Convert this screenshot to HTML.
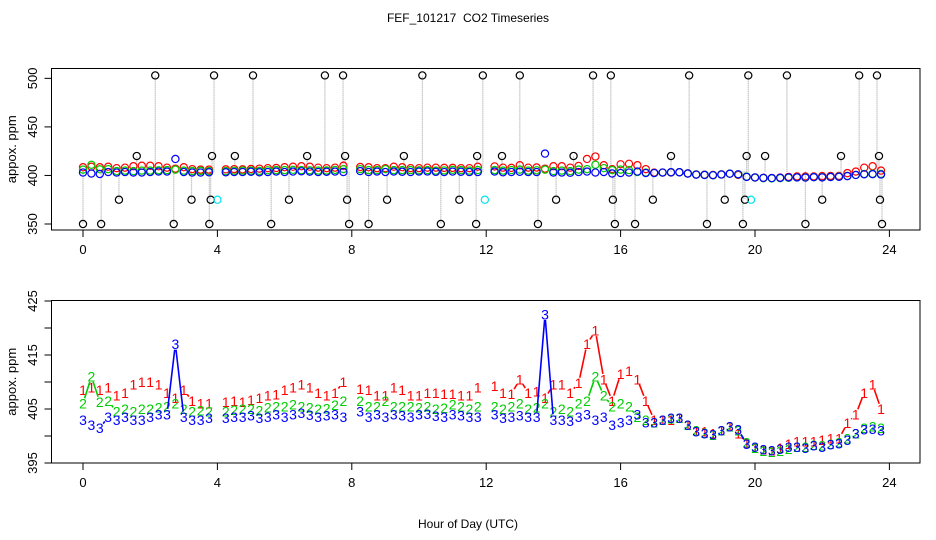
<!DOCTYPE html>
<html><head><meta charset="utf-8"><style>
body{margin:0;background:#fff}
svg{display:block;font-family:"Liberation Sans",Arial,sans-serif}
</style></head><body>
<svg id="chart" width="936" height="540" viewBox="0 0 936 540">
<rect width="936" height="540" fill="#fff"/>
<text x="468" y="22" text-anchor="middle" font-size="12">FEF_101217&#160; CO2 Timeseries</text>
<text x="468" y="528" text-anchor="middle" font-size="12">Hour of Day (UTC)</text>
<g id="gtop"></g>
<g id="gbot"></g>
</svg>
<script>
const hours = [];
const red = [408.5,409,408.5,409,407.5,408,409.5,410,410,409.5,408,407,408.5,406.5,406,406,null,406.3,406.5,406.3,406.7,407,407.5,407.7,408.5,409,409.5,409,408,407.5,408,410,null,408.7,408.5,407.5,407.5,409,408.5,407.5,407.5,408,408,407.8,407.8,407.5,407.5,409,null,409.3,408,407.8,410.5,408,408.2,407,409.5,409.5,408,409.8,417,419.5,410.5,406.5,411.5,412,410.5,406.5,403,403,403,403.3,402,401,400.8,400.5,401,401.8,400.5,398.7,397.8,397.5,397.3,397.8,398.5,399,399,399,399.3,399.5,399.5,402.4,404,408,409.5,405];
const green = [406,411,406.3,406.5,404.5,405,404.5,405,405,405.3,405.5,406,405,404.5,404.7,404.5,null,404.5,404.8,405,405,404.7,405.3,405.5,405.5,405.8,405.5,405.3,405,405.1,405.7,406.5,null,406.5,405.5,405.5,406.5,405.5,405.5,405.5,405.3,405.5,405,405.2,405.8,405.5,405,405.5,null,405.5,405,405.5,406,405,405.3,406,404.5,405,404.5,406,406.5,411,407.5,405.5,406,405.5,403.5,403,402.5,403,403.2,403.3,402,401,400.6,400.2,401,401.8,401,398.8,397.8,397.2,397,397.2,397.6,398,398,398.3,398.2,398.5,398.8,399.5,400.5,401.5,401.8,401.5];
const blue = [403,402,401.5,403.5,403,403.5,403,403,403.5,404,404,417,403.5,403,403,403.3,null,403.3,403.5,403.5,403.8,403.3,403.5,404,403.5,404,404.3,403.9,403.5,403.8,404,403.5,null,404.5,403.5,404,403.5,404,403.8,403.5,404,404.1,403.7,403.5,404,403.8,403.5,403.5,null,404,403.3,403.5,403.8,403.5,403.5,422.5,403,403,402.8,403.5,404,403,403.5,402,402.5,403,404,402.5,402.5,403,403.3,403.3,402,400.8,400.5,400.3,401,401.8,401.2,398.5,398,397.5,397.3,397.6,398,398,397.8,398.2,398,398.4,398.6,399.3,400.5,401.2,401.3,401];
for(let i=0;i<red.length;i++) hours.push(i*0.25);
const refHours = [0,0.54,1.07,1.6,2.15,2.7,3.23,3.76,3.8,3.84,3.9,4.52,5.06,5.6,6.13,6.67,7.2,7.74,7.8,7.86,7.92,8.5,9.05,9.55,10.1,10.65,11.2,11.7,11.73,11.9,12.47,13.0,13.54,14.08,14.6,15.18,15.71,15.77,15.83,16.43,16.96,17.5,18.04,18.57,19.1,19.64,19.7,19.75,19.8,20.3,20.95,21.5,22.0,22.56,23.1,23.63,23.69,23.72,23.78];
const refVals  = [350,350,375,420,503,350,375,350,375,420,503,420,503,350,375,420,503,503,420,375,350,350,375,420,503,350,375,350,420,503,420,503,350,375,420,503,503,375,350,350,375,420,503,350,375,350,375,420,503,420,503,350,375,420,503,503,420,375,350];
const cyanHours = [4.0,11.96,19.88];
const cyanVals = [375,375,375];
const xTicks = [0,4,8,12,16,20,24];
const topYTicks = [350,400,450,500];
const botYTicks = [395,400,405,410,415,420,425];
const botYLabels = [395,405,415,425];

const NS="http://www.w3.org/2000/svg";
const X0=51.5,X1=920;
const xs=h=>83+33.6*h;
const P={top:{y0:68.5,y1:230,ys:v=>224-(v-350)*0.971},bot:{y0:300.5,y1:463,ys:v=>463-(v-395)*5.4}};
function mk(tag,attrs,parent){const e=document.createElementNS(NS,tag);for(const k in attrs)e.setAttribute(k,attrs[k]);parent.appendChild(e);return e;}
function axes(g,p,yt,yl,name){
  const b=mk('rect',{x:X0,y:p.y0,width:X1-X0,height:p.y1-p.y0,fill:'none',stroke:'#000','stroke-width':1},g);
  
  
  xTicks.forEach(t=>{
    const x=xs(t);
    const l=mk('line',{x1:x,x2:x,y1:p.y1,y2:p.y1+7,stroke:'#000'},g);
    
    
    const tx=mk('text',{x:x,y:p.y1+24,'text-anchor':'middle','font-size':13},g);
    tx.textContent=t;
    
    
  });
  yt.forEach(t=>{
    const y=p.ys(t);
    const l=mk('line',{x1:X0-7,x2:X0,y1:y,y2:y,stroke:'#000'},g);
    
    
  });
  yl.forEach(t=>{
    const y=p.ys(t);
    const tx=mk('text',{x:0,y:0,'text-anchor':'middle','font-size':13,transform:`translate(37,${y}) rotate(-90)`},g);
    tx.textContent=t;
    
    
  });
  const yt2=mk('text',{x:0,y:0,'text-anchor':'middle','font-size':13,transform:`translate(16,${(p.y0+p.y1)/2}) rotate(-90)`},g);
  yt2.textContent='appox. ppm';
  
  
}
const gTop=document.getElementById('gtop'),gBot=document.getElementById('gbot');
axes(gTop,P.top,topYTicks,topYTicks,'top');
axes(gBot,P.bot,botYTicks,botYLabels,'bottom');

refHours.forEach((h,i)=>{
  const l=mk('line',{x1:xs(h),x2:xs(h),y1:P.top.ys(404),y2:P.top.ys(refVals[i]),stroke:'#aaa','stroke-dasharray':'1,1','stroke-width':1.2},gTop);
  
  
});
const topSeries=[[red,'#ff0000','red'],[green,'#00cd00','green'],[blue,'#0000ff','blue']];
topSeries.forEach(([arr,c,n])=>{
  arr.forEach((v,i)=>{ if(v==null)return;
    const ci=mk('circle',{cx:xs(hours[i]),cy:P.top.ys(v),r:3.6,fill:'none',stroke:c,'stroke-width':1.2},gTop);
    
    
  });
});
refHours.forEach((h,i)=>{
  const ci=mk('circle',{cx:xs(h),cy:P.top.ys(refVals[i]),r:3.6,fill:'none',stroke:'#000','stroke-width':1.2},gTop);
  
  
});
cyanHours.forEach((h,i)=>{
  const ci=mk('circle',{cx:xs(h),cy:P.top.ys(cyanVals[i]),r:3.6,fill:'none',stroke:'#00e5ee','stroke-width':1.2},gTop);
  
  
});

const GAP=5.5;
const botSeries=[[red,'#ff0000','1','red'],[green,'#00cd00','2','green'],[blue,'#0000ff','3','blue']];
botSeries.forEach(([arr,c,ch,n])=>{
  let d='';
  for(let i=1;i<arr.length;i++){
    if(arr[i]==null||arr[i-1]==null) continue;
    const x1=xs(hours[i-1]),y1=P.bot.ys(arr[i-1]),x2=xs(hours[i]),y2=P.bot.ys(arr[i]);
    const L=Math.hypot(x2-x1,y2-y1);
    if(L<=2*GAP+1) continue;
    const ux=(x2-x1)/L,uy=(y2-y1)/L;
    d+='M'+(x1+ux*GAP).toFixed(1)+' '+(y1+uy*GAP).toFixed(1)+'L'+(x2-ux*GAP).toFixed(1)+' '+(y2-uy*GAP).toFixed(1);
  }
  const pl=mk('path',{d:d||'M0 0',fill:'none',stroke:c,'stroke-width':1.6},gBot);
  
  
  arr.forEach((v,i)=>{ if(v==null)return;
    const t=mk('text',{x:xs(hours[i]),y:P.bot.ys(v)+5,'text-anchor':'middle','font-size':14,fill:c},gBot);
    t.textContent=ch;
    
    
  });
});
</script>
</body></html>
